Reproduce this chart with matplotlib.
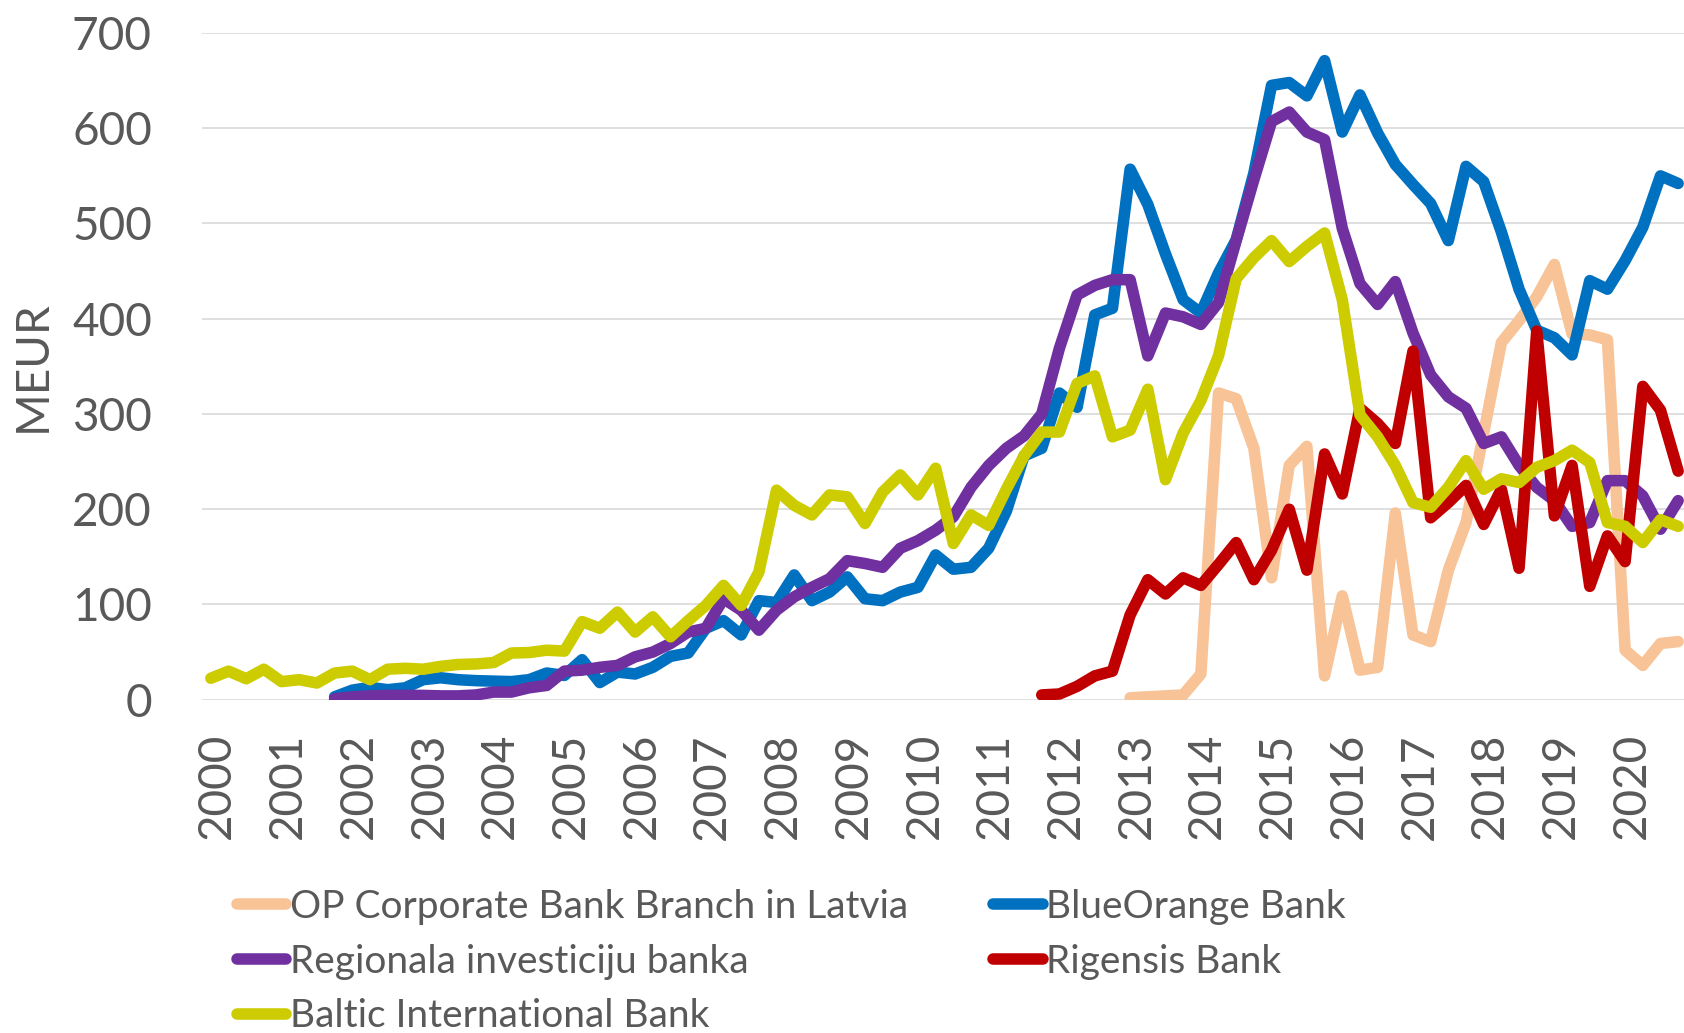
import matplotlib
matplotlib.use("Agg")
import matplotlib.pyplot as plt
import matplotlib.transforms as mtransforms
import numpy as np

N = 84  # quarters 2000Q1 .. 2020Q4
years = [str(y) for y in range(2000, 2021)]

def series(start, vals):
    out = [np.nan] * N
    for k, v in enumerate(vals):
        out[start + k] = v
    return np.array(out, dtype=float)

op_vals = [2, 3, 4, 5, 27, 322, 316, 264, 128, 246, 266, 25, 109, 31, 34, 196,
           68, 61, 136, 186, 280, 375, 398, 423, 457, 384, 383, 378, 52, 36, 59, 61]
blue_vals = [3, 10, 13, 10.5, 12.5, 21, 23, 21, 20, 19.5, 19, 21, 28, 25.5, 42, 18,
             29, 27, 34, 45.5, 49, 75, 83, 68, 104, 102, 131, 104, 113, 129, 106, 104,
             113, 118, 152, 137, 139, 159, 198, 256, 264, 322, 307, 404, 411, 557, 520, 468,
             420, 406, 448, 483, 553, 645, 648, 634, 671, 596, 635, 595, 562, 541, 521, 482,
             560, 544, 491, 431, 388, 380, 362, 440, 431, 461, 496, 550, 542]
purple_vals = [1, 3, 4, 4.5, 4.5, 4.5, 4, 4, 5, 8, 8, 12.5, 15, 30, 31, 34,
               36, 45, 50, 59, 71, 75, 106, 94, 73, 94, 108, 118, 127, 146, 143, 139,
               159, 167, 178, 192, 223, 246, 264, 277, 300, 369, 425, 435, 441, 441, 361, 406,
               402, 394, 417, 482, 546, 607, 617, 596, 588, 495, 437, 415, 439, 385, 341, 318,
               306, 269, 276, 246, 223, 209, 182, 186, 230, 230, 214, 179, 209]
red_vals = [5, 6, 14, 25, 30, 89, 126, 111, 128, 120, 142, 165, 126, 157, 200, 136,
            258, 216, 306, 290, 269, 366, 191, 207, 225, 184, 221, 138, 387, 193, 246, 119,
            172, 145, 329, 304, 240]
yellow_vals = [22.5, 30, 22, 32, 19, 21, 17.5, 28, 30, 21, 32, 33, 32, 35, 37, 37.5,
               39, 49, 49.5, 52, 51, 82, 75, 92, 71, 87, 66, 83, 99, 120, 99, 134,
               220, 204, 194, 215, 213, 185, 218, 236, 215, 243, 164, 194, 183, 221, 256, 281,
               281, 332, 340, 276, 283, 326, 231, 280, 314, 361, 442, 464, 482, 460, 476, 490,
               420, 299, 276, 246, 207, 202, 223, 251, 221, 232, 228, 244, 251, 262, 249, 186,
               182, 165, 189, 182]

op = series(52, op_vals)
blue = series(7, blue_vals)
purple = series(7, purple_vals)
red = series(47, red_vals)
yellow = series(0, yellow_vals)

names = ["OP Corporate Bank Branch in Latvia", "BlueOrange Bank",
         "Regionala investiciju banka", "Rigensis Bank", "Baltic International Bank"]
data = [op, blue, purple, red, yellow]
colors = ["#F8C396", "#0070C0", "#7030A0", "#C00000", "#CCCC00"]

plt.rcParams['font.family'] = ['Lato', 'DejaVu Sans']
W, H = 1684, 1033
fig = plt.figure(figsize=(W / 100, H / 100), dpi=100)
ax = fig.add_axes([202 / W, 1 - 699.7 / H, 1485 / W, 666.7 / H])

x = np.arange(N)
handles = []
for name, y, c in zip(names, data, colors):
    h, = ax.plot(x, y, color=c, lw=8.3, solid_capstyle='round',
                 solid_joinstyle='round', label=name)
    handles.append(h)

ax.set_xlim(-0.5, 83.5)
ax.set_ylim(0, 700)
ax.set_yticks(range(0, 701, 100))
ax.set_xticks(range(0, 81, 4))
ax.set_xticklabels(years, rotation=90)
ax.grid(axis='y', color='#D9D9D9', lw=1.2)
ax.set_axisbelow(True)
for s in ax.spines.values():
    s.set_visible(False)
ax.tick_params(axis='y', length=0, pad=36, labelsize=33, labelcolor='#595959')
ax.tick_params(axis='x', length=0, pad=24, labelsize=33, labelcolor='#595959')
shift = mtransforms.ScaledTranslation(6.5 / 100, 0, fig.dpi_scale_trans)
for lab in ax.get_xticklabels():
    lab.set_transform(lab.get_transform() + shift)

fig.text(33 / W, 1 - 366 / H, "MEUR", rotation=90, ha='center', va='center',
         fontsize=33, color='#595959')

order = [0, 2, 4, 1, 3]
leg = fig.legend([handles[i] for i in order], [names[i] for i in order],
                 loc='upper left', bbox_to_anchor=(237 / W, 1 - 889 / H),
                 ncol=2, frameon=False, fontsize=28, handlelength=1.27,
                 handletextpad=0.1, columnspacing=2.18, labelspacing=0.48,
                 borderpad=0, borderaxespad=0)
for t in leg.get_texts():
    t.set_color('#595959')

fig.savefig("out.png", dpi=100)
